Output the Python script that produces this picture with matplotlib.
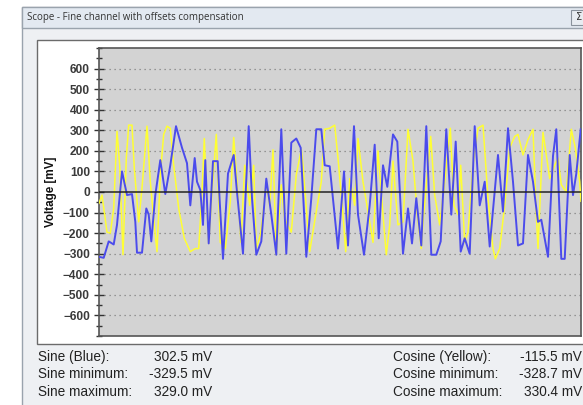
import numpy as np
import matplotlib.pyplot as plt
from matplotlib.patches import Rectangle
from matplotlib.ticker import MultipleLocator

# --- traces (sample position, mV) ---
blue_t = [0, 4.7, 9.7, 14.7, 18, 23, 28, 33, 36.3, 38, 43, 47.3, 49.7, 52.3, 56.3,
          61.3, 66.3, 71.3, 77, 83, 88, 91.3, 95.7, 98, 101.3, 104, 106.3, 109.7,
          114, 118.7, 120.7, 124, 129, 134.7, 138, 144, 149.7, 153, 157.3,
          162.3, 167.3, 172.3, 177.3, 182.3, 187.3, 192.3, 197.3, 201.7, 207.3,
          212.3, 217.3, 222.3, 225.7, 230.7, 239, 245, 249, 255, 259, 265, 270.7,
          275.7, 279.7, 284, 288.3, 294, 298.3, 304, 309, 313, 317.3, 322.3,
          327.3, 332.3, 337.3, 341.7, 347.3, 352.3, 356.7, 361.7, 365.7, 370.7,
          375.7, 380.7, 385.7, 390.7, 399, 404, 409, 414, 419, 424, 429, 434,
          439, 442.3, 449, 454, 457.3, 462.3, 465.7, 470.7, 474, 477.3, 481.7]
blue_mv = [-315, -320, -240, -255, -160, 100, -15, -10, -145, -295, -295, -80, -110,
           -240, -15, 155, -10, 130, 320, 215, 140, -65, 165, 50, 10, -160, 155,
           -250, 150, 150, -45, -325, 90, 180, 0, -300, 320, -30, -305,
           -240, 65, -110, -305, 305, -300, 240, 260, 215, -315, -30, 305, 305,
           130, 125, -275, 100, -260, 320, -110, -305, -65, 230, -225, 130, 25,
           280, 245, -300, -80, -250, -30, -260,
           320, -305, -305, -240, 305, -110, 245, -290, -225, -300, 320, -65, 50,
           -265, 180, -95, 310, 50, -260, -250, 180, 50, -145, -135, -315, 175,
           305, -325, -325, 180, -15, 90, 305]

yellow_t = [0, 3, 8, 11.3, 14.7, 18, 20.7, 24, 27.3, 29.7, 33, 35.3, 39.7, 43, 48,
            51.3, 55.3, 58, 61.3, 64.7, 68, 71.3, 74.7, 79.7, 85.3, 91.3, 96.3,
            99.7, 103, 105.3, 109.7, 113, 117.3, 121.3, 126.3, 131.3, 134.7, 138,
            142, 145.7, 150.7, 154.7, 157.3, 161.3,
            164, 167.3, 170.7, 174, 177.3, 182.3, 185.7, 192.3, 197.3, 202.3, 204,
            210.7, 217.3, 222.3, 225.7, 230.7, 235.7, 239, 244, 246.7, 250.7,
            255.7, 259, 264, 269, 274, 279, 284, 287.3, 290.7, 294, 299, 304, 309,
            314, 318.3, 322.3,
            324, 331.7, 335.7, 340.7, 345.7, 351.3, 355, 359, 361.7, 365.7, 369,
            374, 379, 384, 389, 394, 396.3, 400.7, 405.7, 410.7, 415.7, 419, 424,
            429, 434, 437.3, 439, 444, 447.3, 450.7, 455.7, 459, 462.3, 467.3,
            472.3, 476.3, 480.7, 482]
yellow_mv = [-55, -15, -195, -200, -80, 295, 130, -305, 165, 325, 325, 115, -145, 20,
             320, 50, -160, -290, 85, 280, 320, 310, 130, -80, -225, -290, -275,
             -275, 0, 260, -250, 0, 280, -245, -275, -45, 265, 50, -245, 130, -65,
             130, -275, -210,
             -110, 50, -65, 205, -305, 35, -130, -195, 85, 205, 130, -290, -95, 50,
             305, 310, 325, 165, -110, -290, 65, -65, 260, 50, -95, -245, 200,
             -110, -305, -160, 150, -160, -145, 305, 150, -110, -275,
             -145, 270, -15, -160, 50, 310, -65, -110, 130, -245, -195, 130, 310,
             325, -30, -275, -325, -275, -65, 215, 270, 280, 180, 255, 305, -110,
             -275, 290, 180, 65, 130, 165, 35, 0, 305, 215, 50, -45]

y_ticks = list(range(-600, 601, 100))
title = "Scope - Fine channel with offsets compensation"
sine_rows = [("Sine (Blue):", "302.5 mV"), ("Sine minimum:", "-329.5 mV"),
             ("Sine maximum:", "329.0 mV")]
cos_rows = [("Cosine (Yellow):", "-115.5 mV"), ("Cosine minimum:", "-328.7 mV"),
            ("Cosine maximum:", "330.4 mV")]

W, H = 583, 405
fig = plt.figure(figsize=(W / 100, H / 100), dpi=100)
fig.patch.set_facecolor("white")


def box(x0, y0, x1, y1, **kw):
    # rectangle in screen pixels (top-left origin)
    fig.patches.append(Rectangle((x0 / W, 1 - y1 / H), (x1 - x0) / W, (y1 - y0) / H,
                                 transform=fig.transFigure, zorder=0, **kw))


# window chrome
box(22, 7, 600, 420, facecolor="#eef0f3", edgecolor="#9aa3ad", lw=1)
box(22, 7, 600, 28, facecolor="#e3e9f1", edgecolor="#9aa3ad", lw=1)
box(571, 10, 600, 25, facecolor="#e8ecf1", edgecolor="#8a929c", lw=0.8)
fig.text(27 / W, 1 - 17.5 / H, title, fontsize=7.0, color="#333333",
         va="center", ha="left", family="Open Sans")
fig.text(576 / W, 1 - 17.5 / H, "Σ", fontsize=7, color="#333", va="center")
box(37, 40, 600, 344, facecolor="white", edgecolor="#6b6b6b", lw=1)

ax = fig.add_axes([99 / W, 1 - 336 / H, 482 / W, 288 / H])
ax.set_zorder(5)
ax.set_facecolor("#d3d3d3")
ax.plot(yellow_t, yellow_mv, color="#ffff33", lw=1.1, zorder=3)
ax.plot(blue_t, blue_mv, color="#4b4bec", lw=1.4, zorder=4)
ax.axhline(0, color="#222222", lw=1.1, zorder=5)
for v in y_ticks:
    if v != 0:
        ax.axhline(v, color="#808080", lw=0.9, ls=(0, (1, 3)), zorder=1)

ax.set_xlim(0, 482)
ax.set_ylim(-700, 700)
ax.set_xticks([])
ax.set_yticks(y_ticks)
ax.yaxis.set_minor_locator(MultipleLocator(50))
ax.tick_params(axis="y", which="major", direction="inout", length=7, width=1,
               color="#333", labelsize=8.6, labelcolor="#3a3a3a", pad=3)
ax.tick_params(axis="y", which="minor", direction="inout", length=4, width=1,
               color="#333")
for lab in ax.get_yticklabels():
    lab.set_fontweight("bold")
    lab.set_family("Liberation Sans")
for s in ax.spines.values():
    s.set_color("#555555")
    s.set_linewidth(1.2)
ax.set_ylabel("Voltage [mV]", fontsize=8.4, fontweight="bold",
              family="Liberation Sans", labelpad=4, color="#111")

# readout rows under the plot
for i, (lab, val) in enumerate(sine_rows):
    y = 1 - (357 + i * 17.5) / H
    fig.text(38 / W, y, lab, fontsize=9.8, color="#222", va="center",
             family="Liberation Sans")
    fig.text(212 / W, y, val, fontsize=9.8, color="#222", va="center", ha="right",
             family="Liberation Sans")
for i, (lab, val) in enumerate(cos_rows):
    y = 1 - (357 + i * 17.5) / H
    fig.text(393 / W, y, lab, fontsize=9.8, color="#222", va="center",
             family="Liberation Sans")
    fig.text(582 / W, y, val, fontsize=9.8, color="#222", va="center", ha="right",
             family="Liberation Sans")

fig.savefig("out.png", dpi=100)
